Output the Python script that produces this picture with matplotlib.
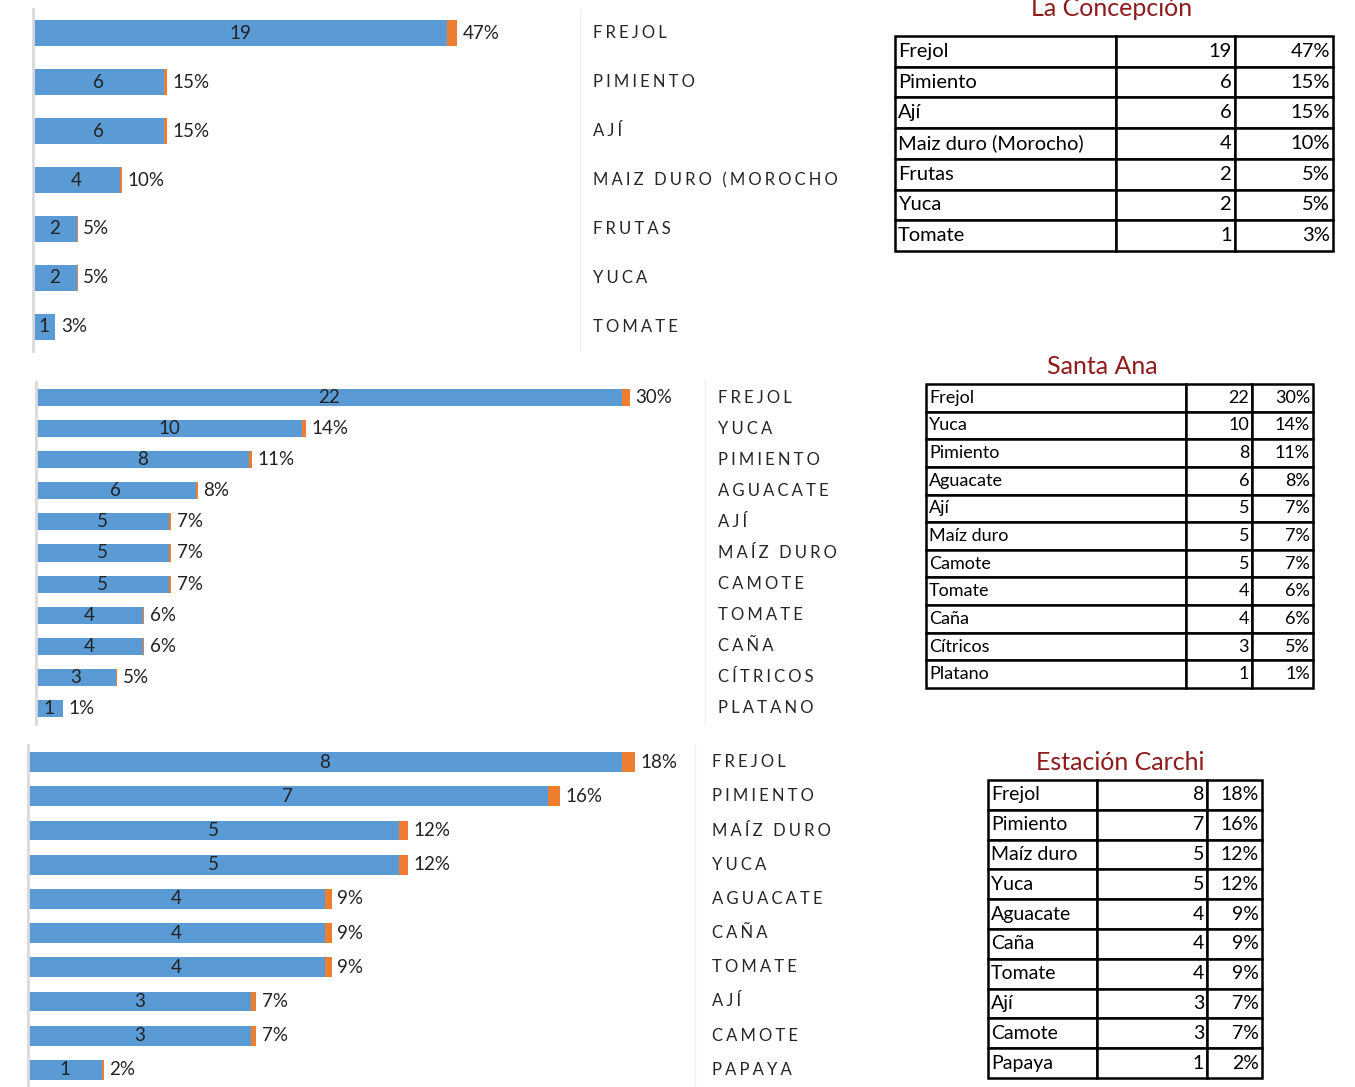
import matplotlib.pyplot as plt
import numpy as np

# Datos (La Concepción, Santa Ana, Estación Carchi)
cult_lc = ["Frejol", "Pimiento", "Ají", "Maiz duro (Morocho)", "Frutas", "Yuca", "Tomate"]
etiq_lc = ["FREJOL", "PIMIENTO", "AJÍ", "MAIZ DURO (MOROCHO", "FRUTAS", "YUCA", "TOMATE"]
n_lc = [19, 6, 6, 4, 2, 2, 1]
pct_lc = [47, 15, 15, 10, 5, 5, 3]

cult_sa = ["Frejol", "Yuca", "Pimiento", "Aguacate", "Ají", "Maíz duro", "Camote",
           "Tomate", "Caña", "Cítricos", "Platano"]
etiq_sa = ["FREJOL", "YUCA", "PIMIENTO", "AGUACATE", "AJÍ", "MAÍZ DURO", "CAMOTE",
           "TOMATE", "CAÑA", "CÍTRICOS", "PLATANO"]
n_sa = [22, 10, 8, 6, 5, 5, 5, 4, 4, 3, 1]
pct_sa = [30, 14, 11, 8, 7, 7, 7, 6, 6, 5, 1]

cult_ec = ["Frejol", "Pimiento", "Maíz duro", "Yuca", "Aguacate", "Caña", "Tomate",
           "Ají", "Camote", "Papaya"]
etiq_ec = ["FREJOL", "PIMIENTO", "MAÍZ DURO", "YUCA", "AGUACATE", "CAÑA", "TOMATE",
           "AJÍ", "CAMOTE", "PAPAYA"]
n_ec = [8, 7, 5, 5, 4, 4, 4, 3, 3, 1]
pct_ec = [18, 16, 12, 12, 9, 9, 9, 7, 7, 2]

W, H = 1355, 1087
AZUL = "#5B9BD5"
NARANJA = "#ED7D31"
ROJO = "#8E1B1B"
plt.rcParams['font.family'] = ["Lato", "DejaVu Sans"]

fig = plt.figure(figsize=(W / 100, H / 100), dpi=100)


def ejes(x0, y0, x1, y1):
    # ejes en coordenadas de pixel (origen arriba a la izquierda)
    return fig.add_axes([x0 / W, 1 - y1 / H, (x1 - x0) / W, (y1 - y0) / H])


def espaciado(s):
    return "\u2009\u200a".join(s)


def dibuja(ax, xmax, etiq, n, pct, alto, x_etiq):
    y = np.arange(len(n))
    frac = np.array(pct) / 100
    ax.barh(y, n, height=alto, color=AZUL)
    ax.barh(y, frac, left=n, height=alto, color=NARANJA)
    for i in range(len(n)):
        ax.text(n[i] / 2, y[i], str(n[i]), ha="center", va="center", fontsize=13.5, color="#222222")
        ax.annotate(f"{pct[i]}%", (n[i] + frac[i], y[i]), xytext=(4, 0), textcoords="offset points",
                    ha="left", va="center", fontsize=13.5, color="#222222")
    ax.set_xlim(0, xmax)
    ax.set_ylim(len(n) - 0.5, -0.5)
    ax.set_xticks([])
    ax.set_yticks([])
    for s in ["top", "bottom"]:
        ax.spines[s].set_visible(False)
    ax.spines["left"].set_color("#d9d9d9")
    ax.spines["left"].set_linewidth(2)
    ax.spines["right"].set_color("#f0f0f0")
    ax.spines["right"].set_linewidth(1)
    # etiquetas de categoría a la derecha
    xa = ax.transAxes.inverted().transform(fig.transFigure.transform((x_etiq / W, 0)))[0]
    for i, e in enumerate(etiq):
        ax.text(xa, i, espaciado(e), transform=ax.get_yaxis_transform(), fontsize=12,
                color="#262626", ha="left", va="center", clip_on=False)


def tabla(caja, titulo, x_tit, y_tit, cult, n, pct, anchos, fs, fs_tit):
    ax = ejes(*caja)
    ax.axis("off")
    filas = [[c, str(v), f"{p}%"] for c, v, p in zip(cult, n, pct)]
    t = ax.table(cellText=filas, colWidths=anchos, bbox=[0, 0, 1, 1], cellLoc="right")
    t.auto_set_font_size(False)
    ancho_px = caja[2] - caja[0]
    for (r, c), cell in t.get_celld().items():
        cell.set_linewidth(1.8)
        cell.set_edgecolor("black")
        cell.PAD = 3 / (anchos[c] * ancho_px)
        cell.get_text().set_fontsize(fs)
        cell.get_text().set_color("black")
        if c == 0:
            cell.get_text().set_horizontalalignment("left")
            cell._loc = "left"
    fig.text(x_tit / W, 1 - y_tit / H, titulo, color=ROJO, fontsize=fs_tit, ha="center", va="center")


# Panel 1: La Concepción
ax1 = ejes(33, 9, 580, 351)
dibuja(ax1, 547 / 21.8, etiq_lc, n_lc, pct_lc, 0.53, 593)
tabla((895, 36, 1333, 251), "La Concepción", 1112, 9, cult_lc, n_lc, pct_lc,
      [221 / 438, 119 / 438, 98 / 438], 14.5, 18)

# Panel 2: Santa Ana
ax2 = ejes(36, 382, 705, 724)
dibuja(ax2, 669 / 26.64, etiq_sa, n_sa, pct_sa, 0.55, 718)
tabla((926, 384, 1313, 688), "Santa Ana", 1102, 367, cult_sa, n_sa, pct_sa,
      [260 / 387, 66 / 387, 61 / 387], 13, 18)

# Panel 3: Estación Carchi
ax3 = ejes(28, 745, 695, 1087)
dibuja(ax3, 667 / 74.25, etiq_ec, n_ec, pct_ec, 0.58, 712)
tabla((988, 780, 1262, 1078), "Estación Carchi", 1120, 763, cult_ec, n_ec, pct_ec,
      [109 / 274, 110 / 274, 55 / 274], 14, 18)

fig.savefig("out.png", dpi=100)
